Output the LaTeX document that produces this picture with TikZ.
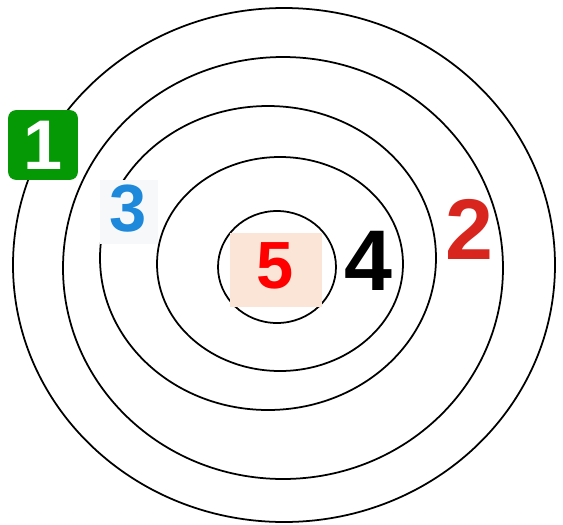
\documentclass[tikz,border=0pt]{standalone}
\usepackage{fontspec}
\setmainfont{Liberation Sans}
\usepackage{xcolor}
\definecolor{tagGreen}{HTML}{059905}
\definecolor{tagBlue}{HTML}{1E88DB}
\definecolor{tagPeach}{HTML}{FBE5D6}
\definecolor{tagRed}{HTML}{D8261E}
\definecolor{tagHaze}{HTML}{F6F8FA}

\begin{document}
\begin{tikzpicture}[x=0.2mm,y=-0.2mm,
  ring/.style={line width=1pt},
  digit/.style={inner sep=0pt,font=\fontsize{#1}{#1}\selectfont\bfseries},
  digit/.default=38pt]
\useasboundingbox (0,0) rectangle (563,524);
% rings, outer to inner
\draw[ring] (284,265) ellipse (271 and 257);
\draw[ring] (283,268) ellipse (220 and 211);
\draw[ring] (268,258) ellipse (168 and 152);
\draw[ring] (280,264) ellipse (123 and 107);
\draw[ring] (277,267) ellipse (59 and 56);
% tags
\node[fill=tagGreen,rounded corners=4.5pt,minimum width=39.7pt,minimum height=39.7pt,
  inner sep=0pt] (boxone) at (43,145) {};
\node[digit=40pt,text=white] (one) at (boxone) {1};
\node[fill=tagHaze,minimum width=32.9pt,minimum height=36.9pt,inner sep=0pt] (boxthree) at (129,212) {};
\node[digit,text=tagBlue] (three) at (128,209) {3};
\node[fill=tagPeach,minimum width=52.7pt,minimum height=42.5pt,inner sep=0pt] (boxfive) at (276,270) {};
\node[digit,text=red] (five) at (275,266) {5};
\node[digit=49pt,text=black] (four) at (368,261) {4};
\node[digit=49pt,text=tagRed] (two) at (469,229) {2};
\end{tikzpicture}
\end{document}
